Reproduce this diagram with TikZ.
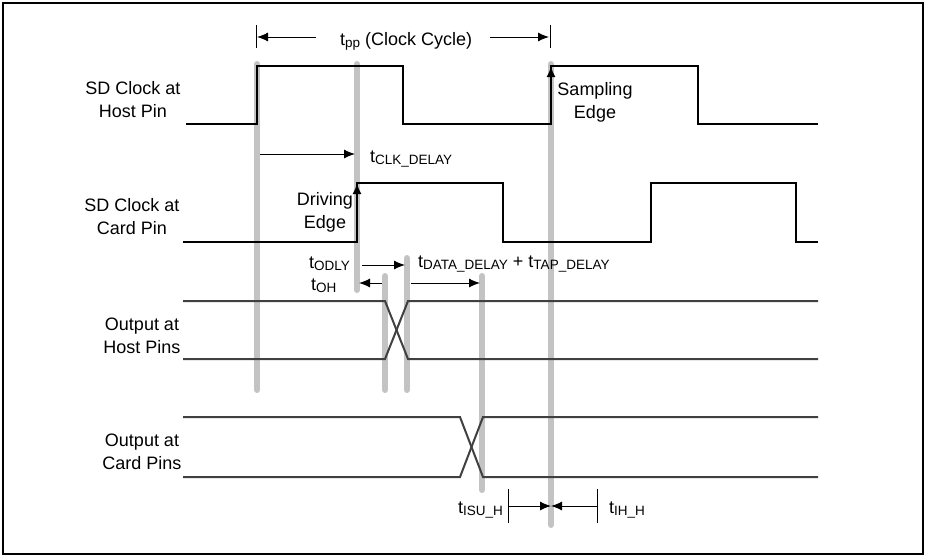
\documentclass[tikz,border=0pt]{standalone}
\usepackage{fontspec}
\setmainfont{Liberation Sans}
\usetikzlibrary{arrows.meta}
\definecolor{guidegray}{HTML}{C3C3C3}
\definecolor{datgray}{HTML}{404040}
\newcommand{\tsb}[1]{t\raisebox{-2pt}{\fontsize{13.5}{13.5}\selectfont #1}}
\begin{document}
\begin{tikzpicture}[x=1pt,y=-1pt,
  guide/.style={line width=6pt, color=guidegray, line cap=round},
  clk/.style={line width=1.6pt, black},
  dat/.style={line width=2pt, color=datgray},
  dim/.style={line width=1pt, -{Latex[length=11pt,width=9pt]}},
  tick/.style={line width=1pt},
  lbl/.style={font=\fontsize{18}{23}\selectfont, align=center, inner sep=0pt},
  tlbl/.style={font=\fontsize{18}{23}\selectfont, inner sep=0pt},
  edgearr/.style={line width=2.4pt, -{Latex[length=11pt,width=9pt]}},
  ]
\useasboundingbox (0,0) rectangle (926,557);
\draw[line width=2pt] (3,3) rectangle (923,554);

% guide lines
\draw[guide] (257,64) -- (257,390);
\draw[guide] (357,64) -- (357,290);
\draw[guide] (385,276) -- (385,390);
\draw[guide] (407,258) -- (407,390);
\draw[guide] (482,276) -- (482,490);
\draw[guide] (551,64) -- (551,525);

% clocks
\draw[clk] (186,124) -- (257,124) -- (257,66) -- (403,66) -- (403,124) -- (551,124) -- (551,66) -- (698,66) -- (698,124) -- (818,124);
\draw[clk] (183,242) -- (357,242) -- (357,183) -- (503,183) -- (503,242) -- (651,242) -- (651,183) -- (796,183) -- (796,242) -- (818,242);

% data
\draw[dat] (183,301) -- (385,301) -- (408,359) -- (818,359);
\draw[dat] (183,359) -- (385,359) -- (408,301) -- (818,301);
\draw[dat] (183,417) -- (460,417) -- (483,477) -- (818,477);
\draw[dat] (183,477) -- (460,477) -- (483,417) -- (818,417);

% edge arrows
\coordinate (drvB) at (357,242); \coordinate (drvT) at (357,183);
\coordinate (smpB) at (551,124); \coordinate (smpT) at (551,66);
\draw[edgearr] (drvB) -- (drvT);
\draw[edgearr] (smpB) -- (smpT);

% labels
\node[lbl] (l1) at (133,100) {SD Clock at\\Host Pin};
\node[lbl] (l2) at (132,217) {SD Clock at\\Card Pin};
\node[lbl] (l3) at (142,336) {Output at\\Host Pins};
\node[lbl] (l4) at (142,452) {Output at\\Card Pins};
\node[lbl] (drv) at (325,212) {Driving\\Edge};
\node[lbl] (smp) at (595,102) {Sampling\\Edge};

% tpp
\draw[tick] (256,25) -- (256,48);
\draw[tick] (550,25) -- (550,48);
\coordinate (ppL0) at (316,37); \coordinate (ppL1) at (257,37);
\coordinate (ppR0) at (490,37); \coordinate (ppR1) at (549,37);
\draw[dim] (ppL0) -- (ppL1);
\draw[dim] (ppR0) -- (ppR1);
\node[tlbl, anchor=base west] (tpp) at (340,45) {\tsb{pp} (Clock Cycle)};

% clk delay
\coordinate (cd0) at (260,154); \coordinate (cd1) at (355,154);
\draw[dim] (cd0) -- (cd1);
\node[tlbl, anchor=base west] (tcd) at (370,162) {\tsb{CLK\_DELAY}};

% odly
\coordinate (od0) at (362,265); \coordinate (od1) at (405,265);
\draw[dim] (od0) -- (od1);
\node[tlbl, anchor=base west] (todly) at (309,268) {\tsb{ODLY}};
\coordinate (oh0) at (382,283); \coordinate (oh1) at (359,283);
\draw[dim] (oh0) -- (oh1);
\node[tlbl, anchor=base west] (toh) at (311,290) {\tsb{OH}};
\coordinate (dd0) at (411,283); \coordinate (dd1) at (480,283);
\draw[dim] (dd0) -- (dd1);
\node[tlbl, anchor=base west] (tdd) at (418,267) {\tsb{DATA\_DELAY} + \tsb{TAP\_DELAY}};

% setup/hold
\draw[tick] (508,489) -- (508,523);
\draw[tick] (597,489) -- (597,523);
\coordinate (su0) at (508,506); \coordinate (su1) at (551,506);
\coordinate (ih0) at (597,506);
\draw[dim] (su0) -- (su1);
\draw[dim] (ih0) -- (su1);
\node[tlbl, anchor=base east] (tsu) at (503,513) {\tsb{ISU\_H}};
\node[tlbl, anchor=base west] (tih) at (609,513) {\tsb{IH\_H}};
\end{tikzpicture}
\end{document}
